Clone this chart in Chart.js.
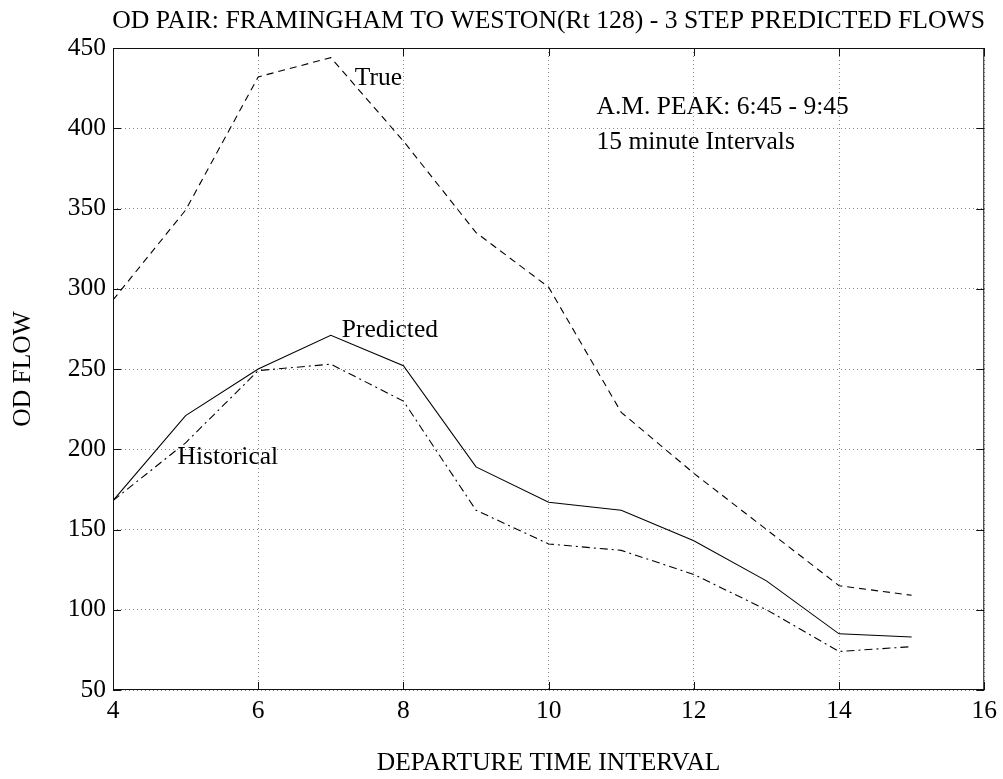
<!DOCTYPE html>
<html>
<head>
<meta charset="utf-8">
<script src="https://cdn.jsdelivr.net/npm/chart.js@4/dist/chart.umd.min.js"></script>
<style>
  html, body { margin: 0; padding: 0; background: #fff; }
  #wrap { width: 1003px; height: 779px; }
</style>
</head>
<body>
<div id="wrap"><canvas id="flows"></canvas></div>
<script>
// departure time intervals (15 minute bins)
const intervals = [4, 5, 6, 7, 8, 9, 10, 11, 12, 13, 14, 15];
const trueFlow = [293, 349, 432, 444, 392, 335, 301, 223, 185, 150, 115, 109];
const predictedFlow = [168, 221, 250, 271, 252, 189, 167, 162, 143, 118, 85, 83];
const historicalFlow = [168, 204, 249, 253, 230, 162, 141, 137, 122, 100, 74, 77];

const xTicks = [4, 6, 8, 10, 12, 14, 16];
const yTicks = [50, 100, 150, 200, 250, 300, 350, 400, 450];

const titleText = 'OD PAIR: FRAMINGHAM TO WESTON(Rt 128) - 3 STEP PREDICTED FLOWS';
const notes = [
  { text: 'True', x: 7.33, y: 431 },
  { text: 'Predicted', x: 7.15, y: 274 },
  { text: 'Historical', x: 4.89, y: 195 },
  { text: 'A.M. PEAK: 6:45 - 9:45', x: 10.66, y: 413 },
  { text: '15 minute Intervals', x: 10.66, y: 391 }
];

const FONT = "'Liberation Serif', 'Times New Roman', serif";
const FS = 25.5;

const pts = (ys) => intervals.map((x, i) => ({ x: x, y: ys[i] }));

// frame, inward ticks, title and in-plot labels
const decorations = {
  id: 'decorations',
  afterDraw(chart) {
    const { ctx, chartArea: a, scales } = chart;
    ctx.save();
    ctx.strokeStyle = '#111';
    ctx.lineWidth = 1;
    ctx.setLineDash([]);
    ctx.strokeRect(a.left + 0.5, a.top + 0.5, a.right - a.left - 1, a.bottom - a.top - 1);

    const t = 8;
    ctx.beginPath();
    yTicks.forEach(v => {
      const py = Math.round(scales.y.getPixelForValue(v)) + 0.5;
      ctx.moveTo(a.left, py); ctx.lineTo(a.left + t, py);
      ctx.moveTo(a.right, py); ctx.lineTo(a.right - t, py);
    });
    xTicks.forEach(v => {
      const px = Math.round(scales.x.getPixelForValue(v)) + 0.5;
      ctx.moveTo(px, a.bottom); ctx.lineTo(px, a.bottom - t);
      ctx.moveTo(px, a.top); ctx.lineTo(px, a.top + t);
    });
    ctx.stroke();

    ctx.fillStyle = '#000';
    ctx.font = '25.7px ' + FONT;
    ctx.textAlign = 'center';
    ctx.textBaseline = 'middle';
    ctx.fillText(titleText, (a.left + a.right) / 2, 21);

    ctx.font = FS + 'px ' + FONT;
    ctx.textAlign = 'left';
    notes.forEach(n => {
      ctx.fillText(n.text, scales.x.getPixelForValue(n.x), scales.y.getPixelForValue(n.y));
    });
    ctx.restore();
  }
};

const grid = {
  color: '#8a8a8a',
  lineWidth: 1,
  drawTicks: false
};
const border = { display: false, dash: [1, 3] };

new Chart(document.getElementById('flows'), {
  type: 'line',
  data: {
    datasets: [
      { label: 'True', data: pts(trueFlow), borderColor: '#000', borderDash: [7, 5] },
      { label: 'Predicted', data: pts(predictedFlow), borderColor: '#000' },
      { label: 'Historical', data: pts(historicalFlow), borderColor: '#000', borderDash: [8, 4, 2, 4] }
    ]
  },
  options: {
    responsive: true,
    maintainAspectRatio: false,
    animation: false,
    events: [],
    datasets: {
      line: {
        borderWidth: 1.1,
        pointRadius: 0,
        tension: 0,
        fill: false
      }
    },
    layout: { padding: { top: 48, right: 18, left: 0, bottom: 0 } },
    plugins: {
      legend: { display: false },
      title: { display: false },
      tooltip: { enabled: false }
    },
    scales: {
      x: {
        type: 'linear',
        min: 4,
        max: 16,
        afterFit: s => { s.height = 89; },
        afterBuildTicks: s => { s.ticks = xTicks.map(v => ({ value: v })); },
        border: border,
        grid: grid,
        ticks: {
          color: '#000',
          padding: 6,
          maxRotation: 0,
          font: { family: FONT, size: FS }
        },
        title: {
          display: true,
          text: 'DEPARTURE TIME INTERVAL',
          color: '#000',
          padding: { top: 0, bottom: 0 },
          font: { family: FONT, size: FS }
        }
      },
      y: {
        type: 'linear',
        min: 50,
        max: 450,
        afterFit: s => { s.width = 113; },
        afterBuildTicks: s => { s.ticks = yTicks.map(v => ({ value: v })); },
        border: border,
        grid: grid,
        ticks: {
          color: '#000',
          padding: 7,
          font: { family: FONT, size: FS }
        },
        title: {
          display: true,
          text: 'OD FLOW',
          color: '#000',
          padding: { top: 8, bottom: 0 },
          font: { family: FONT, size: FS }
        }
      }
    }
  },
  plugins: [decorations]
});
</script>
</body>
</html>
